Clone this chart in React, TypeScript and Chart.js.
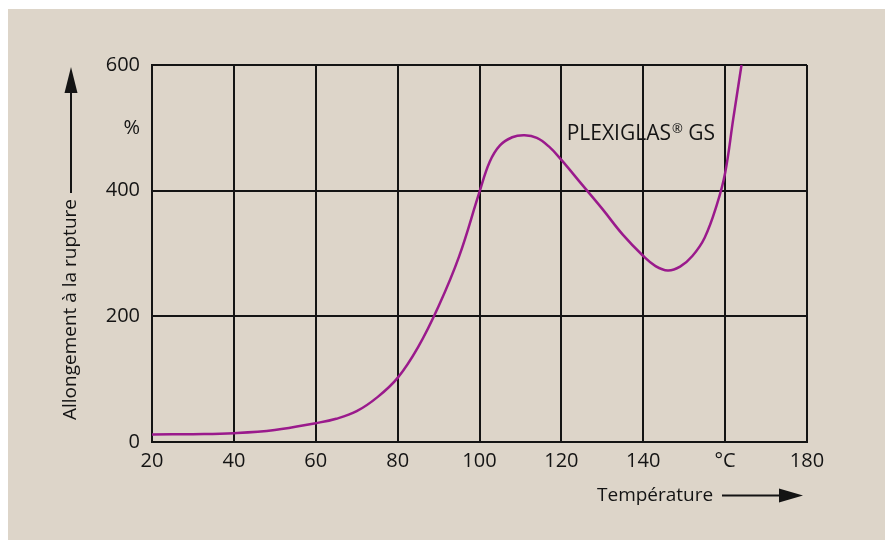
import React, { useEffect, useRef } from "react";
import { Chart, registerables } from "chart.js";

Chart.register(...registerables);

const TEMPS = [20, 30, 40, 50, 60, 65, 70, 75, 80, 85, 90, 95, 100, 102.5, 105, 108, 111, 114, 117, 120, 125, 130, 135, 140, 143, 146, 149, 152, 155, 158, 160, 162, 164];
const ELONG = [12, 12.5, 14, 19, 30, 37, 49, 71, 102, 151, 216, 295, 398, 446, 472, 485, 488, 484, 470, 449, 410, 371, 330, 296, 280, 273, 279, 296, 325, 378, 428, 515, 600];
const X_TICKS = [20, 40, 60, 80, 100, 120, 140, 160, 180];
const X_LABELS = ["20", "40", "60", "80", "100", "120", "140", "°C", "180"];
const Y_TICKS = [0, 200, 400, 500, 600];
const Y_LABELS = ["0", "200", "400", "%", "600"];
const SERIES_NAME = "PLEXIGLAS";
const Y_TITLE = "Allongement à la rupture";
const X_TITLE = "Température";

const FONT = "'Open Sans', 'Noto Sans', sans-serif";
const INK = "#141414";

const decorPlugin = {
  id: "decor",
  afterDraw(chart: any) {
    const ctx = chart.ctx as CanvasRenderingContext2D;
    ctx.save();
    ctx.fillStyle = INK;
    ctx.strokeStyle = INK;
    // Y title
    ctx.save();
    ctx.translate(63, 411);
    ctx.rotate(-Math.PI / 2);
    ctx.font = `19px ${FONT}`;
    ctx.textAlign = "left";
    ctx.textBaseline = "middle";
    ctx.fillText(Y_TITLE, 0, 0);
    ctx.restore();
    // Y arrow
    ctx.lineWidth = 2;
    ctx.beginPath();
    ctx.moveTo(63, 184);
    ctx.lineTo(63, 82);
    ctx.stroke();
    ctx.beginPath();
    ctx.moveTo(63, 58);
    ctx.lineTo(69.5, 84);
    ctx.lineTo(56.5, 84);
    ctx.closePath();
    ctx.fill();
    // X title
    ctx.font = `19px ${FONT}`;
    ctx.textAlign = "left";
    ctx.textBaseline = "middle";
    ctx.fillText(X_TITLE, 589, 487);
    ctx.beginPath();
    ctx.moveTo(714, 486.5);
    ctx.lineTo(772, 486.5);
    ctx.stroke();
    ctx.beginPath();
    ctx.moveTo(795, 486.5);
    ctx.lineTo(771, 479.5);
    ctx.lineTo(771, 493.5);
    ctx.closePath();
    ctx.fill();
    // Series label
    ctx.font = `21px ${FONT}`;
    ctx.textBaseline = "middle";
    let x = 558.7;
    const y = 125;
    ctx.fillText(SERIES_NAME, x, y);
    x += ctx.measureText(SERIES_NAME).width + 1;
    ctx.font = `13px ${FONT}`;
    ctx.fillText("®", x, y - 5);
    x += ctx.measureText("®").width;
    ctx.font = `21px ${FONT}`;
    ctx.fillText(" GS", x, y);
    ctx.restore();
  },
};

export default function App() {
  const ref = useRef<HTMLCanvasElement | null>(null);
  useEffect(() => {
    if (!ref.current) return;
    const chart = new Chart(ref.current, {
      type: "line",
      data: {
        datasets: [
          {
            label: SERIES_NAME,
            data: TEMPS.map((t, i) => ({ x: t, y: ELONG[i] })),
            borderColor: "#9a1a8c",
            borderWidth: 2.5,
            pointRadius: 0,
            tension: 0.4,
            fill: false,
          },
        ],
      },
      options: {
        animation: false,
        responsive: false,
        maintainAspectRatio: false,
        layout: { padding: { left: 0, top: 56, right: 78, bottom: 0 } },
        plugins: { legend: { display: false }, tooltip: { enabled: false } },
        scales: {
          x: {
            type: "linear",
            min: 20,
            max: 180,
            afterBuildTicks: (scale: any) => {
              scale.ticks = X_TICKS.map((v) => ({ value: v }));
            },
            afterFit: (scale: any) => {
              scale.height = 98;
            },
            ticks: {
              color: INK,
              font: { family: FONT, size: 20 },
              padding: 7,
              maxRotation: 0,
              callback: (v: any) => {
                const i = X_TICKS.indexOf(Number(v));
                return i >= 0 ? X_LABELS[i] : "";
              },
            },
            grid: { color: INK, lineWidth: 2, drawTicks: false },
            border: { color: INK, width: 2 },
          },
          y: {
            type: "linear",
            min: 0,
            max: 600,
            afterBuildTicks: (scale: any) => {
              scale.ticks = Y_TICKS.map((v) => ({ value: v }));
            },
            afterFit: (scale: any) => {
              scale.width = 144;
            },
            ticks: {
              color: INK,
              font: { family: FONT, size: 20 },
              padding: 12,
              callback: (v: any) => {
                const i = Y_TICKS.indexOf(Number(v));
                return i >= 0 ? Y_LABELS[i] : "";
              },
            },
            grid: {
              color: (c: any) => (c.tick && c.tick.value === 500 ? "rgba(0,0,0,0)" : INK),
              lineWidth: 2,
              drawTicks: false,
            },
            border: { color: INK, width: 2 },
          },
        },
      },
      plugins: [decorPlugin],
    });
    return () => chart.destroy();
  }, []);
  return (
    <div style={{ position: "fixed", left: 8, top: 9, width: 940, height: 600, background: "#ddd5c9" }}>
      <canvas ref={ref} width={877} height={531} style={{ display: "block" }} />
    </div>
  );
}
